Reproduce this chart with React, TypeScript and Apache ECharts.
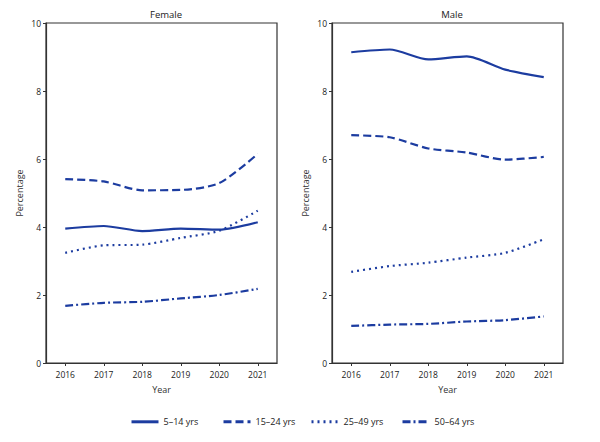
import React, { useEffect, useRef } from "react";
import * as echarts from "echarts";

const years = ["2016", "2017", "2018", "2019", "2020", "2021"];
const groups = ["5–14 yrs", "15–24 yrs", "25–49 yrs", "50–64 yrs"];
const panels = ["Female", "Male"];
const yTicks = [0, 2, 4, 6, 8, 10];

const female514 = [3.95, 4.03, 3.88, 3.95, 3.92, 4.14];
const female1524 = [5.41, 5.34, 5.08, 5.09, 5.29, 6.15];
const female2549 = [3.24, 3.46, 3.48, 3.68, 3.89, 4.48];
const female5064 = [1.68, 1.77, 1.8, 1.9, 2.0, 2.18];

const male514 = [9.14, 9.22, 8.93, 9.02, 8.63, 8.41];
const male1524 = [6.7, 6.64, 6.31, 6.19, 5.98, 6.06];
const male2549 = [2.68, 2.85, 2.95, 3.1, 3.24, 3.64];
const male5064 = [1.09, 1.13, 1.15, 1.22, 1.26, 1.37];

const femaleData = [female514, female1524, female2549, female5064];
const maleData = [male514, male1524, male2549, male5064];

const BLUE = "#1c3ca0";
const FONT = "Open Sans";
const dashTypes: any[] = ["solid", [8, 4], [2, 4], [8, 3, 2, 3]];
const legendLefts = [125, 217, 305, 396];

export default function App() {
  const ref = useRef<HTMLDivElement>(null);
  useEffect(() => {
    if (!ref.current) return;
    const chart = echarts.init(ref.current, null, { renderer: "svg" });
    const grids = [
      { left: 46, right: 323, top: 23, bottom: 79, show: true, borderColor: "#333", borderWidth: 1.2, backgroundColor: "transparent" },
      { left: 332, right: 37, top: 23, bottom: 79, show: true, borderColor: "#333", borderWidth: 1.2, backgroundColor: "transparent" },
    ];
    const axisLine = { show: true, lineStyle: { color: "#333", width: 1.2 } };
    const xAxes = [0, 1].map((i) => ({
      type: "category",
      gridIndex: i,
      data: years,
      boundaryGap: true,
      name: "Year",
      nameLocation: "middle",
      nameGap: 22,
      nameTextStyle: { fontFamily: FONT, fontSize: 9, color: "#333" },
      axisLine,
      axisTick: { show: true, alignWithLabel: true, length: 3, lineStyle: { color: "#333" } },
      axisLabel: { fontFamily: FONT, fontSize: 8.5, color: "#222", margin: 7 },
    }));
    const yAxes = [0, 1].map((i) => ({
      type: "value",
      gridIndex: i,
      min: yTicks[0],
      max: yTicks[yTicks.length - 1],
      interval: 2,
      name: "Percentage",
      nameLocation: "middle",
      nameGap: 22,
      nameTextStyle: { fontFamily: FONT, fontSize: 9, color: "#333" },
      axisLine,
      axisTick: { show: true, length: 3, lineStyle: { color: "#333" } },
      axisLabel: { fontFamily: FONT, fontSize: 8.5, color: "#222", margin: 5 },
      splitLine: { show: false },
    }));
    const series: any[] = [];
    [femaleData, maleData].forEach((set, p) => {
      set.forEach((vals, g) => {
        series.push({
          type: "line",
          name: groups[g],
          xAxisIndex: p,
          yAxisIndex: p,
          data: vals,
          symbol: "none",
          smooth: 0.25,
          lineStyle: { color: BLUE, width: 2.2, type: dashTypes[g] },
          itemStyle: { color: BLUE },
        });
      });
    });
    const legends = groups.map((g, i) => ({
      data: [g],
      left: legendLefts[i],
      top: 412,
      itemWidth: 27,
      itemHeight: 12,
      itemGap: 6,
      itemStyle: { opacity: 0, borderWidth: 0 },
      lineStyle: { width: 3, opacity: 1 },
      textStyle: { fontFamily: FONT, fontSize: 9, color: "#222" },
      selectedMode: false,
    }));
    chart.setOption({
      animation: false,
      backgroundColor: "#fff",
      title: [
        { text: panels[0], left: 161, top: 4, textAlign: "center", textStyle: { fontFamily: FONT, fontSize: 9.5, fontWeight: "normal", color: "#222" } },
        { text: panels[1], left: 447, top: 4, textAlign: "center", textStyle: { fontFamily: FONT, fontSize: 9.5, fontWeight: "normal", color: "#222" } },
      ],
      grid: grids,
      xAxis: xAxes,
      yAxis: yAxes,
      legend: legends,
      series,
    });
    return () => chart.dispose();
  }, []);
  return <div ref={ref} style={{ width: 600, height: 442, position: "absolute", left: 0, top: 0 }} />;
}
